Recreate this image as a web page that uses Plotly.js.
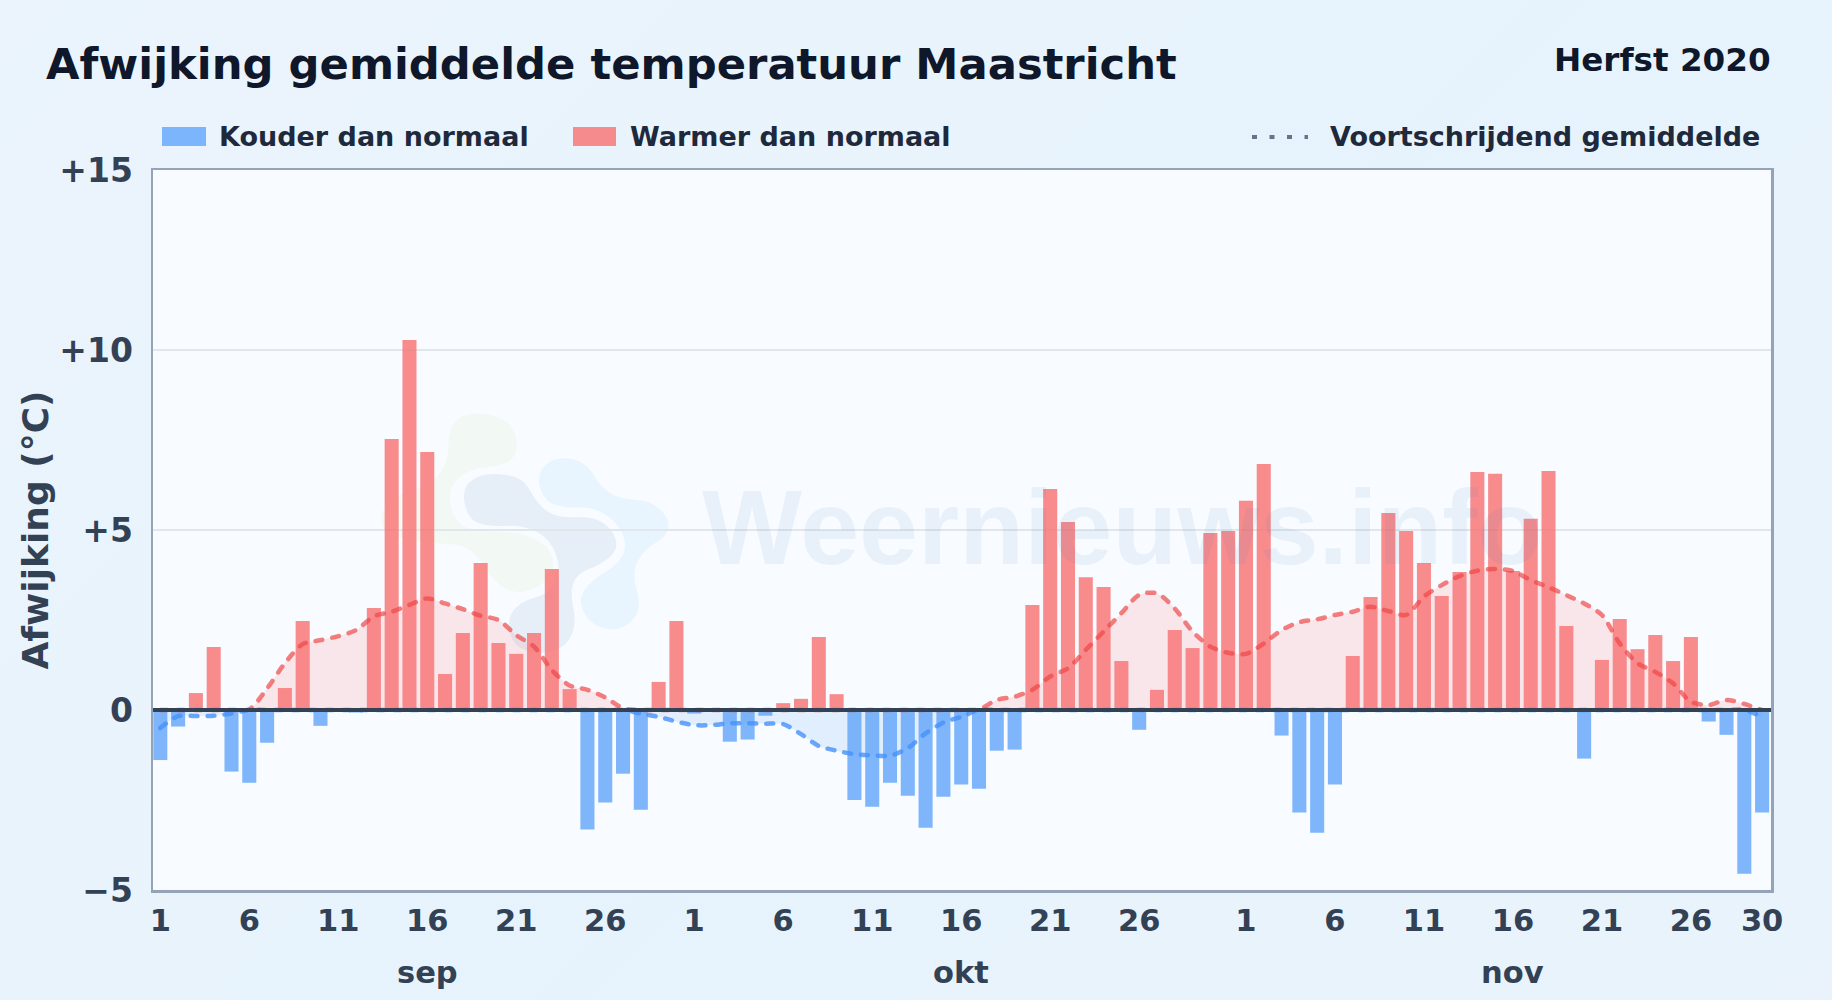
<!DOCTYPE html>
<html lang="nl">
<head>
<meta charset="utf-8">
<title>Afwijking gemiddelde temperatuur Maastricht</title>
<script src="https://cdn.plot.ly/plotly-3.0.1.min.js"></script>
<style>
html,body{margin:0;padding:0;width:1832px;height:1000px;overflow:hidden;background:linear-gradient(135deg,#ebf4fc 0%,#e7f3fc 55%,#eaf3fc 100%);}
#chart{width:1832px;height:1000px;}
.scatterlayer path.js-line{stroke-linecap:round;}
</style>
</head>
<body>
<div id="chart"></div>
<script>
var chartTitle = 'Afwijking gemiddelde temperatuur Maastricht';
var seasonLabel = 'Herfst 2020';
var coldName = 'Kouder dan normaal';
var warmName = 'Warmer dan normaal';
var avgName = 'Voortschrijdend gemiddelde';
var yTitle = 'Afwijking (°C)';
var watermark = 'Weernieuws.info';

var monthNames = ['sep', 'okt', 'nov'];
var sepDeviation = [-1.39,-0.46,0.47,1.75,-1.71,-2.02,-0.91,0.61,2.47,-0.44,0,-0.07,2.83,7.53,10.28,7.17,1.0,2.14,4.08,1.86,1.56,2.14,3.92,0.58,-3.32,-2.57,-1.77,-2.77,0.78,2.47];
var oktDeviation = [-0.1,0,-0.88,-0.82,-0.16,0.19,0.31,2.03,0.44,-2.5,-2.69,-2.02,-2.38,-3.27,-2.41,-2.07,-2.19,-1.13,-1.10,2.92,6.14,5.22,3.69,3.42,1.36,-0.55,0.56,2.22,1.72,4.92,4.97];
var novDeviation = [5.81,6.83,-0.71,-2.85,-3.41,-2.07,1.5,3.14,5.47,4.97,4.08,3.17,3.83,6.61,6.56,3.86,5.31,6.64,2.33,-1.35,1.39,2.53,1.69,2.08,1.36,2.03,-0.32,-0.69,-4.55,-2.85];

var sepAverage = [-0.5,-0.17,-0.17,-0.16,-0.1,0.02,0.6,1.3,1.83,1.94,2.05,2.22,2.6,2.73,2.92,3.1,2.96,2.8,2.62,2.5,2.08,1.76,1.11,0.68,0.56,0.35,0.05,-0.1,-0.19,-0.32];
var oktAverage = [-0.42,-0.42,-0.37,-0.37,-0.38,-0.39,-0.67,-1.0,-1.13,-1.23,-1.26,-1.27,-1.06,-0.65,-0.35,-0.19,0.02,0.28,0.37,0.56,0.93,1.16,1.67,2.18,2.69,3.2,3.24,2.82,2.18,1.76,1.59];
var novAverage = [1.56,1.85,2.22,2.44,2.52,2.64,2.73,2.87,2.75,2.64,3.15,3.47,3.72,3.87,3.92,3.86,3.61,3.41,3.19,2.96,2.64,1.85,1.3,1.06,0.74,0.23,0.14,0.28,0.17,-0.19];

var monthLengths = [30, 31, 30];
var dayTicks = [[1,6,11,16,21,26],[1,6,11,16,21,26],[1,6,11,16,21,26,30]];
var monthCenterDay = 16;
var yTickValues = [-5,0,5,10,15];
var yTickLabels = ['−5','0','+5','+10','+15'];

var deviation = sepDeviation.concat(oktDeviation, novDeviation);
var average = sepAverage.concat(oktAverage, novAverage);
var days = deviation.map(function (_, i) { return i; });

var tickVals = [], tickText = [], monthPos = [], offset = 0;
dayTicks.forEach(function (list, m) {
  list.forEach(function (d) { tickVals.push(offset + d - 1); tickText.push(String(d)); });
  monthPos.push(offset + monthCenterDay - 1);
  offset += monthLengths[m];
});

var coldBars = deviation.map(function (v) { return v < 0 ? v : null; });
var warmBars = deviation.map(function (v) { return v > 0 ? v : null; });
var avgWarm = average.map(function (v) { return v > 0 ? v : 0; });
var avgCold = average.map(function (v) { return v < 0 ? v : 0; });

/* pixel helpers for decoration only */
var PL = 153, PT = 170, PW = 1618, PH = 720;
function px(x) { return (x - PL) / PW; }
function py(y) { return 1 - (y - PT) / PH; }

var FONT = '"DejaVu Sans", sans-serif';
var COLD = 'rgba(96,165,250,0.8)', WARM = 'rgba(248,113,113,0.8)';

function blob(pts, fill) {
  var n = pts.length, d = '';
  function mid(a, b) { return ((a[0] + b[0]) / 2) + ' ' + ((a[1] + b[1]) / 2); }
  d += 'M' + mid(pts[n - 1], pts[0]);
  for (var i = 0; i < n; i++) d += ' Q' + pts[i][0] + ' ' + pts[i][1] + ' ' + mid(pts[i], pts[(i + 1) % n]);
  return '<path d="' + d + ' Z" fill="' + fill + '"/>';
}
var logo = '<svg xmlns="http://www.w3.org/2000/svg" viewBox="0 0 1020 900" width="1020" height="900">' +
  blob([[205,130],[230,80],[310,65],[400,100],[415,190],[370,228],[270,235],[205,290],[215,380],[270,425],[420,425],[510,470],[525,540],[470,600],[390,610],[330,560],[270,465],[160,460],[20,440],[-5,370],[60,310],[160,280],[205,210]], 'rgba(132,204,22,0.05)') +
  blob([[245,300],[290,255],[370,250],[435,270],[470,340],[530,385],[640,378],[700,420],[715,480],[660,525],[590,550],[570,610],[590,700],[560,770],[480,795],[400,770],[380,690],[420,635],[510,610],[545,540],[510,445],[430,405],[330,410],[265,390]], 'rgba(30,100,170,0.08)') +
  blob([[470,265],[500,215],[560,200],[625,225],[660,290],[720,328],[810,330],[870,385],[860,440],[790,480],[755,550],[785,650],[745,710],[680,722],[620,690],[595,625],[635,570],[720,520],[742,460],[710,395],[640,350],[560,355],[495,335]], 'rgba(56,160,240,0.08)') +
  '</svg>';

var traces = [
  { type: 'bar', name: coldName, x: days, y: coldBars, marker: { color: COLD, line: { width: 0 } }, showlegend: false, hoverinfo: 'y' },
  { type: 'bar', name: warmName, x: days, y: warmBars, marker: { color: WARM, line: { width: 0 } }, showlegend: false, hoverinfo: 'y' },
  { type: 'scatter', mode: 'lines', name: avgName + ' (warm)', x: days, y: avgWarm, fill: 'tozeroy', fillcolor: 'rgba(248,113,113,0.15)',
    line: { color: 'rgba(239,68,68,0.68)', width: 4.5, dash: '7px,10px', shape: 'spline', smoothing: 0.8 }, showlegend: false, hoverinfo: 'skip' },
  { type: 'scatter', mode: 'lines', name: avgName + ' (koud)', x: days, y: avgCold, fill: 'tozeroy', fillcolor: 'rgba(96,165,250,0.15)',
    line: { color: 'rgba(70,145,250,0.8)', width: 4.5, dash: '7px,10px', shape: 'spline', smoothing: 0.8 }, showlegend: false, hoverinfo: 'skip' }
];

var annFont = { family: FONT, size: 27, color: '#1e293b' };
var annotations = [
  { xref: 'paper', yref: 'paper', x: px(1773.5), y: py(60), xanchor: 'right', yanchor: 'middle', showarrow: false, text: '<b>' + seasonLabel + '</b>', font: { family: FONT, size: 32.6, color: '#0f172a' } },
  { xref: 'paper', yref: 'paper', x: px(217), y: py(137), xanchor: 'left', yanchor: 'middle', showarrow: false, text: '<b>' + coldName + '</b>', font: annFont },
  { xref: 'paper', yref: 'paper', x: px(628), y: py(137), xanchor: 'left', yanchor: 'middle', showarrow: false, text: '<b>' + warmName + '</b>', font: annFont },
  { xref: 'paper', yref: 'paper', x: px(1328), y: py(137), xanchor: 'left', yanchor: 'middle', showarrow: false, text: '<b>' + avgName + '</b>', font: annFont },
  { xref: 'paper', yref: 'paper', x: px(1122), y: py(527), xanchor: 'center', yanchor: 'middle', showarrow: false, text: '<b>' + watermark + '</b>', font: { family: '"Liberation Sans", sans-serif', size: 106, color: 'rgba(30,110,180,0.07)' } }
];
monthNames.forEach(function (m, i) {
  annotations.push({ xref: 'x', yref: 'paper', x: monthPos[i], y: py(972), xanchor: 'center', yanchor: 'middle', showarrow: false, text: '<b>' + m + '</b>', font: { family: FONT, size: 30.5, color: '#334155' } });
});

var shapes = [
  { type: 'rect', xref: 'paper', yref: 'paper', x0: px(162), x1: px(206), y0: py(127), y1: py(146), fillcolor: COLD, line: { width: 0 } },
  { type: 'rect', xref: 'paper', yref: 'paper', x0: px(573), x1: px(616), y0: py(127), y1: py(146), fillcolor: WARM, line: { width: 0 } },
  { type: 'line', xref: 'paper', yref: 'paper', x0: px(1252), x1: px(1308), y0: py(137), y1: py(137), line: { color: '#64748b', width: 4, dash: '5px,12.5px' } },
  { type: 'line', xref: 'paper', yref: 'y', x0: 0, x1: 1, y0: 0, y1: 0, layer: 'above', line: { color: '#334155', width: 4 } }
];

var layout = {
  width: 1832, height: 1000,
  margin: { l: PL, r: 1832 - PL - PW, t: PT, b: 1000 - PT - PH, autoexpand: false },
  paper_bgcolor: 'rgba(0,0,0,0)',
  plot_bgcolor: '#f8fbff',
  font: { family: FONT },
  barmode: 'overlay',
  bargap: 0.21,
  title: { text: '<b>' + chartTitle + '</b>', font: { family: FONT, size: 43.3, color: '#0f172a' }, xref: 'container', yref: 'container', x: 46 / 1832, xanchor: 'left', y: 1 - 64 / 1000, yanchor: 'middle' },
  xaxis: {
    range: [-0.41, 90.5], tickmode: 'array', tickvals: tickVals, ticktext: tickText,
    showgrid: false, zeroline: false, showline: true, mirror: true, linecolor: '#94a3b8', linewidth: 2.5,
    ticks: 'outside', ticklen: 2, tickcolor: 'rgba(0,0,0,0)',
    tickfont: { family: FONT, size: 30.5, color: '#334155', weight: 700 }, tickangle: 0
  },
  yaxis: {
    range: [-5, 15], tickmode: 'array', tickvals: yTickValues, ticktext: yTickLabels,
    showgrid: true, gridcolor: '#e1e6eb', gridwidth: 1.5, zeroline: false, showline: true, mirror: true, linecolor: '#94a3b8', linewidth: 2.5,
    ticks: 'outside', ticklen: 11, tickcolor: 'rgba(0,0,0,0)',
    tickfont: { family: FONT, size: 33, color: '#334155', weight: 700 },
    title: { text: '<b>' + yTitle + '</b>', font: { family: FONT, size: 36, color: '#334155' }, standoff: 0 }
  },
  annotations: annotations,
  shapes: shapes,
  images: [{ source: 'data:image/svg+xml;utf8,' + encodeURIComponent(logo), xref: 'paper', yref: 'paper', x: px(380), y: py(390), sizex: 340 / PW, sizey: 300 / PH, sizing: 'stretch', xanchor: 'left', yanchor: 'top', layer: 'below' }],
  showlegend: false
};

Plotly.newPlot('chart', traces, layout, { displayModeBar: false, staticPlot: true });
</script>
</body>
</html>
